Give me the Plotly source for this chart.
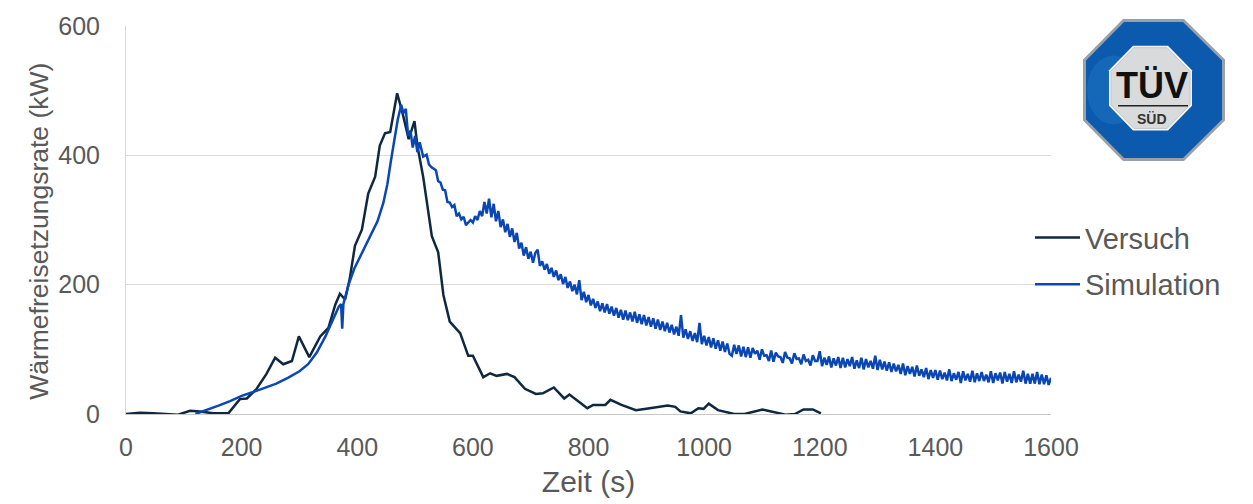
import plotly.graph_objects as go

# ---------------- data ----------------
versuch_t = [0, 24, 47, 76, 90, 111, 128, 151, 177, 197, 209, 226, 243, 258, 272, 287, 299, 317,
             336, 350, 362, 370, 379, 387, 396, 408, 419, 431, 439, 448, 457, 469, 479, 489, 499,
             504, 514, 529, 540, 549, 560, 578, 592, 600, 618, 630, 641, 659, 672, 690, 709, 721,
             740, 758, 767, 798, 808, 829, 838, 857, 882, 906, 937, 950, 959, 977, 990, 999, 1008,
             1024, 1052, 1070, 1101, 1116, 1141, 1157, 1172, 1188, 1202]
versuch_q = [0, 2, 1, -1, -1, 5, 4, 1, 1, 23, 24, 39, 62, 87, 77, 82, 120, 88,
             120, 133, 169, 186, 177, 209, 260, 285, 341, 367, 415, 434, 436, 496, 463, 425, 453,
             415, 367, 275, 250, 184, 143, 125, 90, 90, 57, 63, 59, 62, 57, 39, 31, 32,
             41, 24, 30, 9, 14, 14, 22, 14, 6, 9, 13, 11, 4, 1, 9, 8, 16,
             6, 0, 0, 7, 4, -1, 0, 7, 7, 1]

# Simulation: early part (smooth rise and peak)
sim_t_early = [120, 140, 160, 180, 200, 220, 240, 260, 280, 300, 315, 330, 345, 360, 368, 372, 374,
               376, 385, 395, 405, 415, 425, 435, 445, 452, 458, 464, 470, 476, 480, 484, 488, 492,
               496, 500, 504, 508, 514]
sim_q_early = [0, 6, 13, 20, 28, 34, 40, 47, 56, 66, 77, 95, 120, 150, 166, 170, 132,
               170, 200, 225, 243, 260, 278, 298, 326, 355, 390, 420, 455, 478, 465, 472, 430, 438,
               412, 430, 405, 420, 398]
# Simulation: noisy decay, sampled every 4 s from 520 s to 1600 s
sim_t_late = list(range(520, 1601, 4))
sim_q_late = [
    401, 386, 382, 380, 377, 360, 358, 347, 346, 328, 327, 320, 323, 306, 310, 301, 305, 292, 296, 300,
    296, 306, 300, 314, 306, 328, 310, 333, 304, 325, 298, 314, 289, 301, 281, 294, 274, 287, 266, 280,
    256, 265, 245, 258, 240, 251, 234, 249, 254, 229, 236, 223, 232, 217, 226, 212, 222, 207, 216, 201,
    212, 195, 205, 190, 200, 185, 207, 176, 189, 173, 184, 168, 178, 164, 174, 159, 171, 157, 170, 155,
    166, 152, 164, 149, 161, 146, 160, 145, 157, 143, 158, 141, 154, 139, 153, 137, 150, 135, 148, 132,
    146, 130, 143, 128, 141, 126, 138, 123, 135, 121, 153, 118, 131, 116, 128, 113, 125, 111, 141, 108,
    121, 106, 119, 103, 117, 101, 114, 98, 112, 96, 109, 93, 90, 107, 93, 106, 89, 104, 88, 103,
    87, 102, 93, 98, 84, 100, 90, 91, 82, 98, 81, 95, 89, 88, 79, 96, 87, 86, 78, 94,
    85, 86, 77, 92, 82, 84, 75, 91, 82, 82, 97, 74, 87, 76, 89, 72, 86, 75, 88, 71,
    87, 72, 85, 74, 88, 70, 83, 71, 87, 69, 85, 72, 82, 70, 90, 68, 84, 69, 81, 67,
    80, 65, 78, 66, 76, 62, 78, 60, 74, 62, 73, 58, 75, 59, 69, 57, 71, 54, 68, 56,
    68, 53, 67, 54, 64, 52, 69, 51, 63, 53, 65, 48, 66, 52, 62, 50, 67, 49, 63, 51,
    65, 51, 61, 49, 66, 48, 63, 52, 64, 47, 65, 50, 62, 48, 66, 49, 61, 50, 67, 47,
    62, 47, 62, 47, 65, 46, 61, 46, 60, 45, 56]

sim_t = sim_t_early + sim_t_late
sim_q = sim_q_early + sim_q_late

x_ticks = [0, 200, 400, 600, 800, 1000, 1200, 1400, 1600]
y_ticks = [0, 200, 400, 600]

# ---------------- figure ----------------
W, H = 1253, 504
L, R, T, B = 126, 1051, 20, 414
FONT = "Arial, 'Liberation Sans', sans-serif"
GREY = "#595959"

fig = go.Figure()
fig.add_trace(go.Scatter(x=versuch_t, y=versuch_q, mode="lines", name="Versuch",
                         legendgroup="a", line=dict(color="#0e2841", width=2.5)))
fig.add_trace(go.Scatter(x=sim_t, y=sim_q, mode="lines", name="Simulation",
                         legendgroup="b", line=dict(color="#0a47b5", width=2.5)))


def px(X, Y):
    return (X - L) / (R - L), (B - Y) / (B - T)


def poly(pts):
    s = ""
    for i, (X, Y) in enumerate(pts):
        a, b = px(X, Y)
        s += ("M" if i == 0 else "L") + f"{a:.5f},{b:.5f} "
    return s + "Z"


outer = [(1123, 13), (1184, 13), (1225, 54), (1225, 116), (1184, 157), (1123, 157), (1083, 116), (1083, 54)]
blue = [(1124, 16), (1183, 16), (1222, 55), (1222, 115), (1183, 154), (1124, 154), (1086, 115), (1086, 55)]
inner = [(1133, 40), (1168, 40), (1192, 65), (1192, 101), (1168, 126), (1133, 126), (1109, 101), (1109, 65)]
inner2 = [(1134, 42), (1167, 42), (1190, 66), (1190, 100), (1167, 124), (1134, 124), (1111, 100), (1111, 66)]

shapes = [
    dict(type="path", xref="paper", yref="paper", path=poly(outer),
         fillcolor="#9aa0a8", line=dict(width=0), layer="above"),
    dict(type="path", xref="paper", yref="paper", path=poly(blue),
         fillcolor="#0b5aae", line=dict(width=0), layer="above"),
    dict(type="circle", xref="paper", yref="paper",
         x0=px(1087, 0)[0], x1=px(1140, 0)[0], y0=px(0, 120)[1], y1=px(0, 50)[1],
         fillcolor="#3b9be0", opacity=0.22, line=dict(width=0), layer="above"),
    dict(type="path", xref="paper", yref="paper", path=poly(inner),
         fillcolor="#f4f4f4", line=dict(width=0), layer="above"),
    dict(type="path", xref="paper", yref="paper", path=poly(inner2),
         fillcolor="#d9dadc", line=dict(color="#c4c6c9", width=1), layer="above"),
    dict(type="line", xref="paper", yref="paper",
         x0=px(1118, 0)[0], x1=px(1188, 0)[0], y0=px(0, 101)[1], y1=px(0, 101)[1],
         line=dict(color="#222222", width=1.5), layer="above"),
]

annotations = [
    dict(xref="paper", yref="paper", x=px(1152, 0)[0], y=px(0, 80)[1], text="<b>TÜV</b>",
         showarrow=False, font=dict(family="'Liberation Sans Narrow', Arial, sans-serif",
                                    size=36, color="#111111"), xanchor="center", yanchor="middle"),
    dict(xref="paper", yref="paper", x=px(1152, 0)[0], y=px(0, 114)[1], text="<b>SÜD</b>",
         showarrow=False, font=dict(family=FONT, size=14, color="#333333"),
         xanchor="center", yanchor="middle"),
    # y-axis title
    dict(xref="paper", yref="paper", x=px(39, 0)[0], y=px(0, 229)[1],
         text="Wärmefreisetzungsrate (kW)", textangle=-90, showarrow=False,
         font=dict(family=FONT, size=26.5, color=GREY), xanchor="center", yanchor="middle"),
]

fig.update_layout(
    width=W, height=H,
    margin=dict(l=L, r=W - R, t=T, b=H - B, pad=0),
    paper_bgcolor="white", plot_bgcolor="white",
    font=dict(family=FONT, color=GREY),
    showlegend=True,
    legend=dict(x=px(1030, 0)[0], y=px(0, 209)[1], xanchor="left", yanchor="top",
                font=dict(size=29, color=GREY), bgcolor="rgba(0,0,0,0)",
                tracegroupgap=6, itemwidth=45),
    shapes=shapes,
    annotations=annotations,
    xaxis=dict(range=[0, 1600], tickvals=x_ticks, ticktext=[str(v) for v in x_ticks],
               showgrid=False, zeroline=False, showline=True, linecolor="#c8c8c8", linewidth=1,
               ticks="", tickfont=dict(size=25, color=GREY), ticklabelstandoff=11,
               title=dict(text="Zeit (s)", font=dict(size=30, color=GREY), standoff=10)),
    yaxis=dict(range=[0, 600], tickvals=y_ticks, ticktext=[str(v) for v in y_ticks],
               showgrid=True, gridcolor="#d9d9d9", gridwidth=1, zeroline=False,
               showline=True, linecolor="#d9d9d9", linewidth=1,
               ticks="", tickfont=dict(size=25, color=GREY), ticklabelstandoff=20),
)

fig.write_html("out.html")
